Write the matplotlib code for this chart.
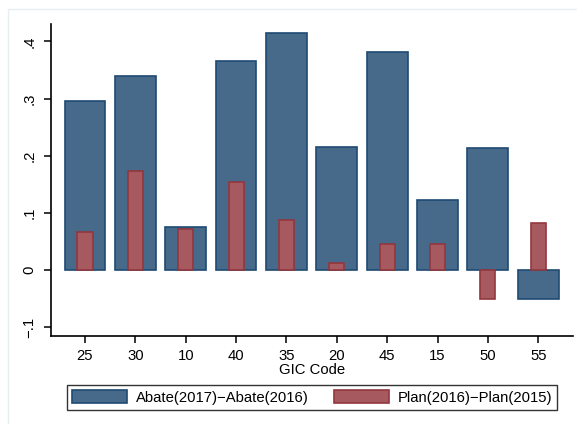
import matplotlib.pyplot as plt
import numpy as np
from matplotlib.patches import Rectangle

plt.rcParams["font.family"] = ["Liberation Sans", "DejaVu Sans"]

gic_codes = ["25", "30", "10", "40", "35", "20", "45", "15", "50", "55"]
abate_diff = [0.296, 0.340, 0.075, 0.365, 0.414, 0.215, 0.381, 0.122, 0.213, -0.051]
plan_diff = [0.066, 0.174, 0.071, 0.154, 0.088, 0.013, 0.045, 0.045, -0.050, 0.082]

navy_fill = "#486a8a"
navy_edge = "#1f4a73"
maroon_fill = "#a65a60"
maroon_edge = "#93373e"
FS = 10.7

W, H = 577, 424
fig = plt.figure(figsize=(W / 100, H / 100), dpi=100)
fig.patch.set_facecolor("white")

# faint graph-region border
fig.add_artist(Rectangle((8 / W, -0.1), 1.2, 1 - 9 / H + 0.1, transform=fig.transFigure,
                         fill=False, edgecolor="#e6eef0", linewidth=1))

ax = fig.add_axes([50.5 / W, 1 - 336 / H, (573 - 50.5) / W, (336 - 24) / H])
x = np.arange(1, len(gic_codes) + 1)

ax.bar(x, abate_diff, width=0.81, color=navy_fill, edgecolor=navy_edge,
       linewidth=1.2, label="Abate(2017)\u2212Abate(2016)", zorder=2)
ax.bar(x, plan_diff, width=0.3, color=maroon_fill, edgecolor=maroon_edge,
       linewidth=1.2, label="Plan(2016)\u2212Plan(2015)", zorder=3)

ax.set_xlim(0.315, 10.69)
ax.set_ylim(-0.1155, 0.4305)
ax.set_xticks(x)
ax.set_xticklabels(gic_codes)
yt = [-0.1, 0, 0.1, 0.2, 0.3, 0.4]
ax.set_yticks(yt)
ax.set_yticklabels(["\u2212.1", "0", ".1", ".2", ".3", ".4"], rotation=90, va="center")

for side in ["top", "right"]:
    ax.spines[side].set_visible(False)
for side in ["left", "bottom"]:
    ax.spines[side].set_linewidth(1.2)
ax.tick_params(axis="both", direction="out", length=5, width=1.1, labelsize=FS,
               colors="black")
ax.tick_params(axis="x", pad=4)
ax.tick_params(axis="y", pad=5)
ax.set_xlabel("GIC Code", fontsize=FS, labelpad=0)

# legend centred under the plot, box roughly x 67..557, y 384..411
leg = fig.legend(*ax.get_legend_handles_labels(), loc="center",
                 bbox_to_anchor=(312 / W, 1 - 397.5 / H), bbox_transform=fig.transFigure,
                 ncol=2, fontsize=FS, frameon=True, fancybox=False, edgecolor="black",
                 borderpad=0.35, handlelength=3.7, handleheight=1.0,
                 handletextpad=0.6, columnspacing=1.68, borderaxespad=0)
leg.get_frame().set_linewidth(1.0)

fig.savefig("out.png", dpi=100)
